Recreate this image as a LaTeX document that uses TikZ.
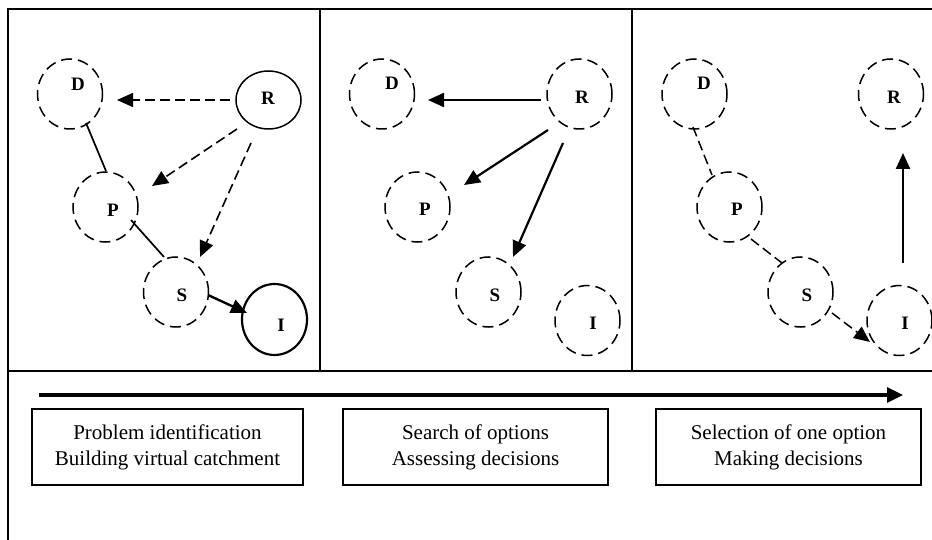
\documentclass[tikz,border=0pt]{standalone}
\usepackage{fontspec}
\setmainfont{Liberation Serif}
\usetikzlibrary{arrows.meta,shapes.geometric}
\begin{document}
\begin{tikzpicture}[x=1pt,y=-1pt,
  frame/.style={line width=1.9pt},
  agent/.style={ellipse,draw,minimum width=65pt,minimum height=70pt,inner sep=0pt,line width=1.5pt},
  dagent/.style={agent,dash pattern=on 11pt off 6pt},
  tag/.style={font=\fontsize{19}{21}\selectfont\bfseries,inner sep=0pt},
  link/.style={line width=1.6pt,-{Triangle[length=16pt,width=14pt]}},
  dlink/.style={link,dash pattern=on 10pt off 5pt},
  plain/.style={line width=1.7pt},
  dplain/.style={line width=1.5pt,dash pattern=on 10pt off 5pt},
  stagebox/.style={draw,line width=1.5pt,minimum width=265pt,minimum height=76pt,align=center,
    font=\fontsize{21}{26}\selectfont,inner sep=0pt}
]
\useasboundingbox (0,0) rectangle (932,540);

% outer frame and panel dividers
\draw[frame] (8,540) -- (8,9) -- (932,9);
\draw[frame] (8,371) -- (932,371);
\draw[frame] (320,9) -- (320,371);
\draw[frame] (632,9) -- (632,371);

% ---------- stage 1 ----------
\node[dagent] (d1) at (70,94) {};
\node[agent,minimum height=58pt] (r1) at (268.5,100) {};
\node[dagent] (p1) at (105.5,207) {};
\node[dagent] (s1) at (176,292) {};
\node[agent,line width=2.2pt,minimum height=71pt] (i1) at (274.5,319.5) {};
\node[tag] (d1t) at (78,84) {D};
\node[tag] (r1t) at (268,98) {R};
\node[tag] (p1t) at (113,210) {P};
\node[tag] (s1t) at (182,295) {S};
\node[tag] (i1t) at (281,325) {I};

\coordinate (r1a) at (230,100);   \coordinate (d1a) at (117,100);
\coordinate (r1b) at (237,129);   \coordinate (p1b) at (152,186);
\coordinate (r1c) at (251,143);   \coordinate (s1c) at (200,257);
\coordinate (d1d) at (86,123);    \coordinate (p1d) at (106,171);
\coordinate (p1e) at (131,220);   \coordinate (s1e) at (164,257);
\coordinate (s1f) at (208,295);   \coordinate (i1f) at (247,313);
\draw[dlink] (r1a) -- (d1a);
\draw[dlink] (r1b) -- (p1b);
\draw[dlink] (r1c) -- (s1c);
\draw[plain] (d1d) -- (p1d);
\draw[plain] (p1e) -- (s1e);
\draw[link,line width=2.4pt] (s1f) -- (i1f);

% ---------- stage 2 ----------
\node[dagent] (d2) at (382,94) {};
\node[dagent] (r2) at (579.5,94) {};
\node[dagent] (p2) at (417.5,207) {};
\node[dagent] (s2) at (488.5,292) {};
\node[dagent] (i2) at (587.5,320.5) {};
\node[tag] (d2t) at (392,83) {D};
\node[tag] (r2t) at (582,97) {R};
\node[tag] (p2t) at (425,209) {P};
\node[tag] (s2t) at (495,295) {S};
\node[tag] (i2t) at (593,323) {I};

\coordinate (r2a) at (541,100);   \coordinate (d2a) at (428,100);
\coordinate (r2b) at (548,130);   \coordinate (p2b) at (464,185);
\coordinate (r2c) at (563,143);   \coordinate (s2c) at (513,257);
\draw[link,line width=2.2pt] (r2a) -- (d2a);
\draw[link,line width=2.2pt] (r2b) -- (p2b);
\draw[link,line width=2.2pt] (r2c) -- (s2c);

% ---------- stage 3 ----------
\node[dagent] (d3) at (694.5,94) {};
\node[dagent] (r3) at (891,94) {};
\node[dagent] (p3) at (729.5,207) {};
\node[dagent] (s3) at (800.5,292) {};
\node[dagent] (i3) at (899.5,320.5) {};
\node[tag] (d3t) at (704,83) {D};
\node[tag] (r3t) at (894,97) {R};
\node[tag] (p3t) at (737,209) {P};
\node[tag] (s3t) at (807,295) {S};
\node[tag] (i3t) at (905,323) {I};

\coordinate (d3a) at (693,127);   \coordinate (p3a) at (712,175);
\coordinate (p3b) at (751,239);   \coordinate (s3b) at (782,263);
\coordinate (s3c) at (832,313);   \coordinate (i3c) at (870,342);
\coordinate (i3d) at (903,263);   \coordinate (r3d) at (903,153);
\draw[dplain] (d3a) -- (p3a);
\draw[dplain] (p3b) -- (s3b);
\draw[dlink,line width=1.5pt] (s3c) -- (i3c);
\draw[link,line width=2.4pt] (i3d) -- (r3d);

% ---------- process timeline ----------
\coordinate (tstart) at (39,395);
\coordinate (tend) at (903,395);
\draw[line width=3.2pt,-{Triangle[length=16pt,width=15pt]}] (tstart) -- (tend);

\node[stagebox,minimum width=271pt] (b1) at (167.5,447) {Problem identification\\Building virtual catchment};
\node[stagebox] (b2) at (475.5,447) {Search of options\\Assessing decisions};
\node[stagebox] (b3) at (788.5,447) {Selection of one option\\Making decisions};
\end{tikzpicture}
\end{document}
